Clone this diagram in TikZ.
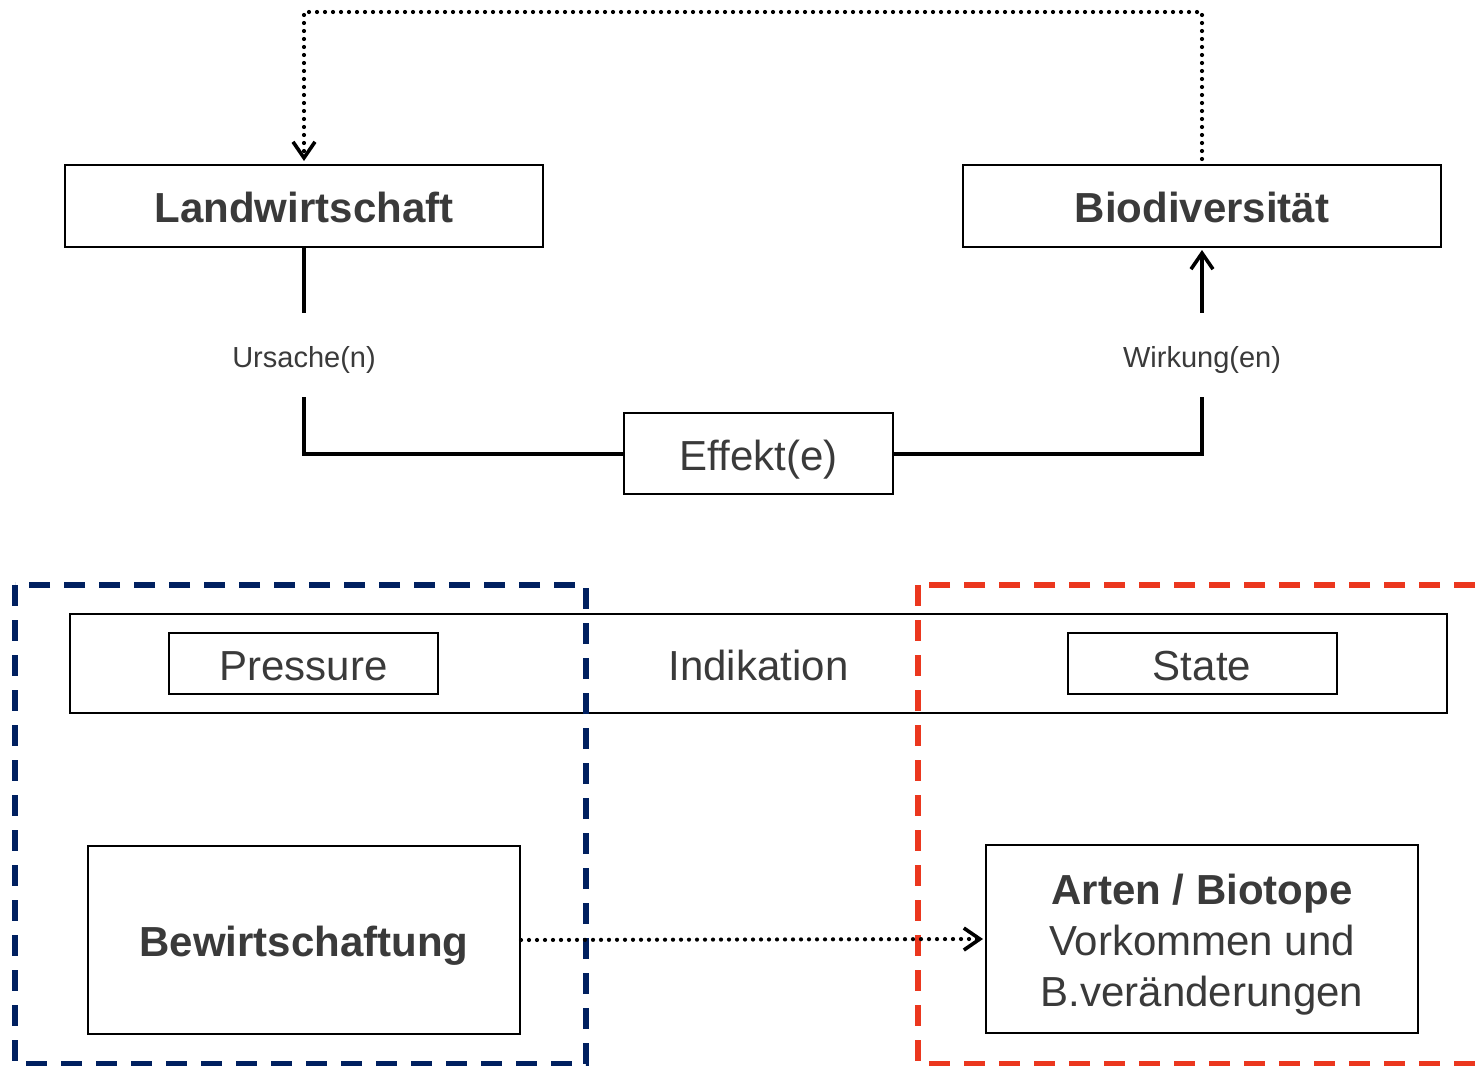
\documentclass[tikz,border=0pt]{standalone}
\usepackage{fontspec}
\setmainfont{Liberation Sans}
\usetikzlibrary{arrows.meta}
\definecolor{txt}{RGB}{58,58,58}
\definecolor{navy}{RGB}{0,32,96}
\definecolor{redd}{RGB}{235,55,30}
\tikzset{
  box/.style={draw=black, line width=1pt, inner sep=0pt, text=txt, align=center},
  big/.style={font=\fontsize{21}{25.5}\selectfont, text height=16.5pt, text depth=0pt},
  bigb/.style={font=\fontsize{21}{25.5}\selectfont\bfseries, text height=16.5pt, text depth=0pt},
  lbl/.style={inner sep=0pt, text=txt, font=\fontsize{14.5}{17}\selectfont, minimum height=42pt, text height=12.4pt, text depth=0pt},
  conn/.style={line width=2pt},
  dots/.style={line width=2.1pt, line cap=round, dash pattern=on 0pt off 4pt},
  tip/.style={-{Straight Barb[length=8pt,width=11pt,line width=1.8pt]}},
  dashbox/.style={line width=2.6pt, dash pattern=on 10.5pt off 7pt}
}
\begin{document}
\begin{tikzpicture}[x=0.5pt,y=-0.5pt]
\useasboundingbox (0,0) rectangle (1480,1066);
\clip (0,0) rectangle (1480,1066);
\fill[white] (0,0) rectangle (1480,1066);

% top boxes
\node[box,bigb,minimum width=239pt,minimum height=41pt] (land) at (304,206) {Landwirtschaft};
\node[box,bigb,minimum width=239pt,minimum height=41pt] (bio) at (1202,206) {Biodiversität};
\node[box,big,minimum width=134.5pt,minimum height=40.5pt] (eff) at (758.5,453.5) {Effekt(e)};
\node[lbl] (u) at (304,355) {Ursache(n)};
\node[lbl] (w) at (1202,355) {Wirkung(en)};

\draw[conn] (land.south) -- (u.north);
\draw[conn] (u.south) |- (eff.west);
\draw[conn] (eff.east) -| (w.south);
\draw[conn,tip] (w.north) -- ([yshift=-1pt]bio.south);

\coordinate (tr) at (1202,12);
\coordinate (tl) at (304,12);
\draw[dots,tip] ([yshift=2.5pt]bio.north) -- (tr) -- (tl) -- ([yshift=1.5pt]land.north);

% lower part
\node[box,big,minimum width=688.5pt,minimum height=49.5pt] (ind) at (758.5,663.5) {Indikation};
\node[box,big,minimum width=134.5pt,minimum height=30.5pt] (pres) at (303.5,663.5) {Pressure};
\node[box,big,minimum width=134.5pt,minimum height=30.5pt] (state) at (1202,663.5) {State};
\node[box,bigb,minimum width=216pt,minimum height=94pt] (bew) at (304,940) {Bewirtschaftung};
\node[box,minimum width=216pt,minimum height=94pt] (art) at (1202,939) {};
\node[inner sep=0pt, text=txt, align=center, font=\fontsize{21}{25.5}\selectfont] (artt) at (1202,944.5) {\textbf{Arten / Biotope}\\Vorkommen und\\B.veränderungen};

\draw[dashbox,navy] (15,585) rectangle (586,1064);
\draw[dashbox,redd] (918,585) rectangle (1540,1064);

\draw[dots,tip] (bew.east) -- ([xshift=-1pt]art.west);
\end{tikzpicture}
\end{document}
